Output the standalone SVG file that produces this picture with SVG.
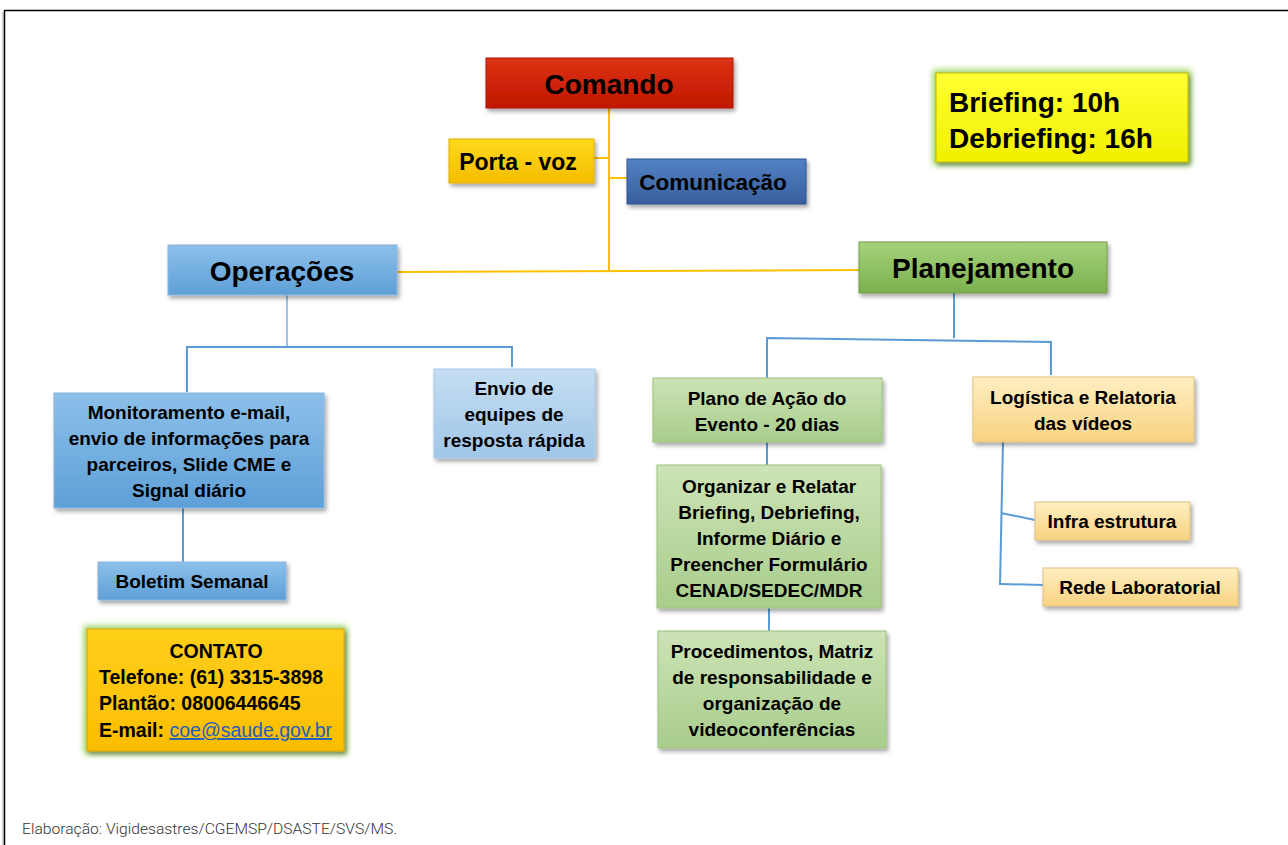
<svg xmlns="http://www.w3.org/2000/svg" width="1288" height="845" viewBox="0 0 1288 845">
<defs>
<style>
text{font-family:"Liberation Sans",Arial,sans-serif;font-weight:bold;fill:#000;text-anchor:middle}
.t28{font-size:28px}
.t22{font-size:22.5px}
.t23{font-size:23px}
.t19{font-size:19px}
.t195{font-size:19.5px}
.cy{stroke:#ffc000;stroke-width:2;fill:none}
.cb{stroke:#5b9bd5;stroke-width:2;fill:none}
.cl{stroke:#9dc3e6;stroke-width:2;fill:none}
.foot{font-family:Roboto,"Liberation Sans",sans-serif;font-weight:300;font-size:14px;fill:#333;text-anchor:start}
</style>
<filter id="sh" x="-10%" y="-10%" width="125%" height="130%">
<feDropShadow dx="2" dy="3" stdDeviation="2" flood-color="#000" flood-opacity="0.35"/>
</filter>
<filter id="glow" x="-20%" y="-20%" width="140%" height="140%">
<feGaussianBlur stdDeviation="3"/>
</filter>
<linearGradient id="gRed" x1="0" y1="0" x2="0" y2="1"><stop offset="0" stop-color="#dc3214"/><stop offset="1" stop-color="#c01800"/></linearGradient>
<linearGradient id="gYel" x1="0" y1="0" x2="0" y2="1"><stop offset="0" stop-color="#ffda1a"/><stop offset="1" stop-color="#f5bd00"/></linearGradient>
<linearGradient id="gDBlue" x1="0" y1="0" x2="0" y2="1"><stop offset="0" stop-color="#5381c2"/><stop offset="1" stop-color="#385f9e"/></linearGradient>
<linearGradient id="gBlue" x1="0" y1="0" x2="0" y2="1"><stop offset="0" stop-color="#8cc0ea"/><stop offset="1" stop-color="#5e9fd7"/></linearGradient>
<linearGradient id="gLBlue" x1="0" y1="0" x2="0" y2="1"><stop offset="0" stop-color="#c5ddf2"/><stop offset="1" stop-color="#9fc6e8"/></linearGradient>
<linearGradient id="gGreen" x1="0" y1="0" x2="0" y2="1"><stop offset="0" stop-color="#a6d27c"/><stop offset="1" stop-color="#7bb04d"/></linearGradient>
<linearGradient id="gLGreen" x1="0" y1="0" x2="0" y2="1"><stop offset="0" stop-color="#cde3b6"/><stop offset="1" stop-color="#a8cd8c"/></linearGradient>
<linearGradient id="gTan" x1="0" y1="0" x2="0" y2="1"><stop offset="0" stop-color="#ffefc2"/><stop offset="1" stop-color="#f8d281"/></linearGradient>
<linearGradient id="gBrief" x1="0" y1="0" x2="0" y2="1"><stop offset="0" stop-color="#ffff33"/><stop offset="1" stop-color="#f0f000"/></linearGradient>
<linearGradient id="gGold" x1="0" y1="0" x2="0" y2="1"><stop offset="0" stop-color="#ffcf1a"/><stop offset="1" stop-color="#fbbd00"/></linearGradient>
</defs>
<rect x="0" y="0" width="1288" height="845" fill="#fff"/>
<path d="M4.5 845 V10.5 H1288" stroke="#000" stroke-width="1.5" fill="none"/>
<path d="M3 12 V845" stroke="#999" stroke-width="1" fill="none"/>

<g id="connectors">
<path class="cy" d="M609 108 V272"/>
<path class="cy" d="M594 158 H609"/>
<path class="cy" d="M609 178 H627"/>
<path class="cy" d="M397 272 L859 270"/>
<path class="cl" d="M287 295 V347"/>
<path class="cb" d="M187 392 V347 H512 V367"/>
<path class="cb" d="M183 508 V562"/>
<path class="cb" d="M954 293 V338"/>
<path class="cb" d="M767 378 V338 L1051 342 V375"/>
<path class="cb" d="M767 442 V465"/>
<path class="cb" d="M769 608 V631"/>
<path class="cb" d="M1003 442 L1000 585"/>
<path class="cb" d="M1001 513 L1035 520"/>
<path class="cb" d="M1000 584 L1043 585"/>
</g>

<g id="comando">
<rect x="486" y="58" width="247" height="50" fill="url(#gRed)" stroke="#b01800" filter="url(#sh)"/>
<text class="t28" x="609" y="94">Comando</text>
</g>
<g id="porta-voz">
<rect x="449" y="139" width="145" height="44" fill="url(#gYel)" stroke="#e0b000" filter="url(#sh)"/>
<text class="t23" x="518" y="170">Porta - voz</text>
</g>
<g id="comunicacao">
<rect x="627" y="159" width="179" height="45" fill="url(#gDBlue)" stroke="#2f5597" filter="url(#sh)"/>
<text class="t22" x="713" y="190">Comunicação</text>
</g>
<g id="briefing">
<rect x="936" y="73" width="252" height="89" fill="none" stroke="#92d050" stroke-width="6" filter="url(#glow)"/>
<rect x="936" y="73" width="252" height="89" fill="url(#gBrief)" stroke="#b8b800" filter="url(#sh)"/>
<text class="t28" x="949" y="112" style="text-anchor:start">Briefing: 10h</text>
<text class="t28" x="949" y="148" style="text-anchor:start">Debriefing: 16h</text>
</g>
<g id="operacoes">
<rect x="168" y="245" width="229" height="50" fill="url(#gBlue)" stroke="#8ab4dc" filter="url(#sh)"/>
<text class="t28" x="282" y="281">Operações</text>
</g>
<g id="planejamento">
<rect x="859" y="242" width="248" height="51" fill="url(#gGreen)" stroke="#6e9c46" filter="url(#sh)"/>
<text class="t28" x="983" y="278">Planejamento</text>
</g>
<g id="monitoramento">
<rect x="54" y="393" width="270" height="115" fill="url(#gBlue)" stroke="#8ab4dc" filter="url(#sh)"/>
<text class="t19" x="189" y="419">Monitoramento e-mail,</text>
<text class="t19" x="189" y="445">envio de informações para</text>
<text class="t19" x="189" y="471">parceiros, Slide CME e</text>
<text class="t19" x="189" y="497">Signal diário</text>
</g>
<g id="envio">
<rect x="434" y="369" width="161" height="89" fill="url(#gLBlue)" stroke="#a8c8e6" filter="url(#sh)"/>
<text class="t19" x="514" y="395">Envio de</text>
<text class="t19" x="514" y="421">equipes de</text>
<text class="t19" x="514" y="447">resposta rápida</text>
</g>
<g id="boletim">
<rect x="98" y="562" width="188" height="38" fill="url(#gBlue)" stroke="#8ab4dc" filter="url(#sh)"/>
<text class="t19" x="192" y="588">Boletim Semanal</text>
</g>
<g id="contato">
<rect x="87" y="629" width="257" height="122" fill="none" stroke="#92d050" stroke-width="6" filter="url(#glow)"/>
<rect x="87" y="629" width="257" height="122" fill="url(#gGold)" stroke="#d9a300" filter="url(#sh)"/>
<text class="t195" x="216" y="658">CONTATO</text>
<text class="t195" x="99" y="684" style="text-anchor:start">Telefone: (61) 3315-3898</text>
<text class="t195" x="99" y="710" style="text-anchor:start">Plantão: 08006446645</text>
<text class="t195" x="99" y="737" style="text-anchor:start">E-mail: <tspan style="font-weight:normal;fill:#1f5fbf;text-decoration:underline">coe@saude.gov.br</tspan></text>
</g>
<g id="plano">
<rect x="653" y="378" width="229" height="64" fill="url(#gLGreen)" stroke="#9cc27c" filter="url(#sh)"/>
<text class="t19" x="767" y="405">Plano de Ação do</text>
<text class="t19" x="767" y="431">Evento - 20 dias</text>
</g>
<g id="organizar">
<rect x="657" y="465" width="224" height="143" fill="url(#gLGreen)" stroke="#9cc27c" filter="url(#sh)"/>
<text class="t19" x="769" y="493">Organizar e Relatar</text>
<text class="t19" x="769" y="519">Briefing, Debriefing,</text>
<text class="t19" x="769" y="545">Informe Diário e</text>
<text class="t19" x="769" y="571">Preencher Formulário</text>
<text class="t19" x="769" y="597">CENAD/SEDEC/MDR</text>
</g>
<g id="procedimentos">
<rect x="658" y="631" width="228" height="117" fill="url(#gLGreen)" stroke="#9cc27c" filter="url(#sh)"/>
<text class="t19" x="772" y="658">Procedimentos, Matriz</text>
<text class="t19" x="772" y="684">de responsabilidade e</text>
<text class="t19" x="772" y="710">organização de</text>
<text class="t19" x="772" y="736">videoconferências</text>
</g>
<g id="logistica">
<rect x="973" y="377" width="221" height="65" fill="url(#gTan)" stroke="#e0c080" filter="url(#sh)"/>
<text class="t19" x="1083" y="404">Logística e Relatoria</text>
<text class="t19" x="1083" y="430">das vídeos</text>
</g>
<g id="infra">
<rect x="1035" y="502" width="155" height="38" fill="url(#gTan)" stroke="#e0c080" filter="url(#sh)"/>
<text class="t19" x="1112" y="528">Infra estrutura</text>
</g>
<g id="rede">
<rect x="1043" y="568" width="195" height="38" fill="url(#gTan)" stroke="#e0c080" filter="url(#sh)"/>
<text class="t19" x="1140" y="594">Rede Laboratorial</text>
</g>
<text class="foot" x="22" y="834" textLength="375" lengthAdjust="spacingAndGlyphs">Elaboração: Vigidesastres/CGEMSP/DSASTE/SVS/MS.</text>
</svg>
